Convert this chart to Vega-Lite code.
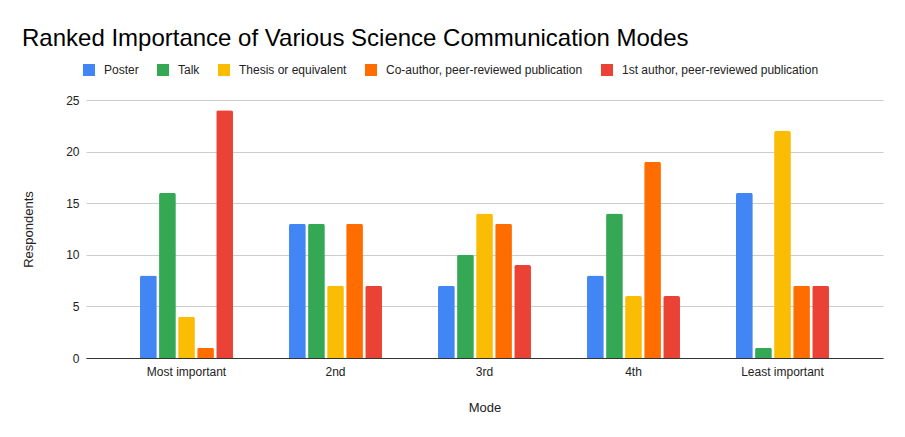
{
  "$schema": "https://vega.github.io/schema/vega-lite/v6.json",
  "autosize": "none",
  "width": 797,
  "height": 258,
  "padding": {"left": 86, "top": 100, "right": 22, "bottom": 79},
  "background": "white",
  "title": {
    "text": "Ranked Importance of Various Science Communication Modes",
    "anchor": "start",
    "frame": "group",
    "dx": -64,
    "fontSize": 24,
    "fontWeight": "normal",
    "font": "Liberation Sans",
    "color": "#000000",
    "offset": 13
  },
  "config": {
    "font": "Liberation Sans",
    "view": {"stroke": null}
  },
  "data": {
    "values": [
      {"mode": "Most important", "series": "Poster", "value": 8},
      {"mode": "Most important", "series": "Talk", "value": 16},
      {"mode": "Most important", "series": "Thesis or equivalent", "value": 4},
      {"mode": "Most important", "series": "Co-author, peer-reviewed publication", "value": 1},
      {"mode": "Most important", "series": "1st author, peer-reviewed publication", "value": 24},
      {"mode": "2nd", "series": "Poster", "value": 13},
      {"mode": "2nd", "series": "Talk", "value": 13},
      {"mode": "2nd", "series": "Thesis or equivalent", "value": 7},
      {"mode": "2nd", "series": "Co-author, peer-reviewed publication", "value": 13},
      {"mode": "2nd", "series": "1st author, peer-reviewed publication", "value": 7},
      {"mode": "3rd", "series": "Poster", "value": 7},
      {"mode": "3rd", "series": "Talk", "value": 10},
      {"mode": "3rd", "series": "Thesis or equivalent", "value": 14},
      {"mode": "3rd", "series": "Co-author, peer-reviewed publication", "value": 13},
      {"mode": "3rd", "series": "1st author, peer-reviewed publication", "value": 9},
      {"mode": "4th", "series": "Poster", "value": 8},
      {"mode": "4th", "series": "Talk", "value": 14},
      {"mode": "4th", "series": "Thesis or equivalent", "value": 6},
      {"mode": "4th", "series": "Co-author, peer-reviewed publication", "value": 19},
      {"mode": "4th", "series": "1st author, peer-reviewed publication", "value": 6},
      {"mode": "Least important", "series": "Poster", "value": 16},
      {"mode": "Least important", "series": "Talk", "value": 1},
      {"mode": "Least important", "series": "Thesis or equivalent", "value": 22},
      {"mode": "Least important", "series": "Co-author, peer-reviewed publication", "value": 7},
      {"mode": "Least important", "series": "1st author, peer-reviewed publication", "value": 7}
    ]
  },
  "mark": {"type": "bar", "cornerRadiusTopLeft": 2, "cornerRadiusTopRight": 2},
  "encoding": {
    "x": {
      "field": "mode",
      "type": "nominal",
      "sort": ["Most important", "2nd", "3rd", "4th", "Least important"],
      "scale": {"paddingInner": 0.376, "paddingOuter": 0.3625},
      "axis": {
        "title": "Mode",
        "labelAngle": 0,
        "ticks": false,
        "labelPadding": 8,
        "labelFontSize": 12,
        "labelColor": "#222222",
        "titleFontSize": 13,
        "titleFontWeight": "normal",
        "titleColor": "#222222",
        "titlePadding": 24,
        "domainColor": "#333333",
        "domainWidth": 1
      }
    },
    "xOffset": {
      "field": "series",
      "type": "nominal",
      "sort": ["Poster", "Talk", "Thesis or equivalent", "Co-author, peer-reviewed publication", "1st author, peer-reviewed publication"],
      "scale": {"paddingInner": 0.12, "paddingOuter": 0}
    },
    "y": {
      "field": "value",
      "type": "quantitative",
      "scale": {"domain": [0, 25]},
      "axis": {
        "title": "Respondents",
        "values": [0, 5, 10, 15, 20, 25],
        "ticks": false,
        "domain": false,
        "labelPadding": 7,
        "labelFontSize": 12,
        "labelColor": "#222222",
        "gridColor": "#cccccc",
        "titleFontSize": 13,
        "titleFontWeight": "normal",
        "titleColor": "#222222",
        "titlePadding": 30
      }
    },
    "color": {
      "field": "series",
      "type": "nominal",
      "sort": ["Poster", "Talk", "Thesis or equivalent", "Co-author, peer-reviewed publication", "1st author, peer-reviewed publication"],
      "scale": {
        "domain": ["Poster", "Talk", "Thesis or equivalent", "Co-author, peer-reviewed publication", "1st author, peer-reviewed publication"],
        "range": ["#4285F4", "#34A853", "#FBBC04", "#FF6D01", "#EA4335"]
      },
      "legend": {
        "orient": "none",
        "legendX": -3,
        "legendY": -36,
        "direction": "horizontal",
        "title": null,
        "symbolType": "square",
        "symbolSize": 144,
        "symbolStrokeWidth": 0,
        "labelFontSize": 12,
        "labelLimit": 0,
        "labelColor": "#222222",
        "labelOffset": 9,
        "columnPadding": 18
      }
    }
  }
}
